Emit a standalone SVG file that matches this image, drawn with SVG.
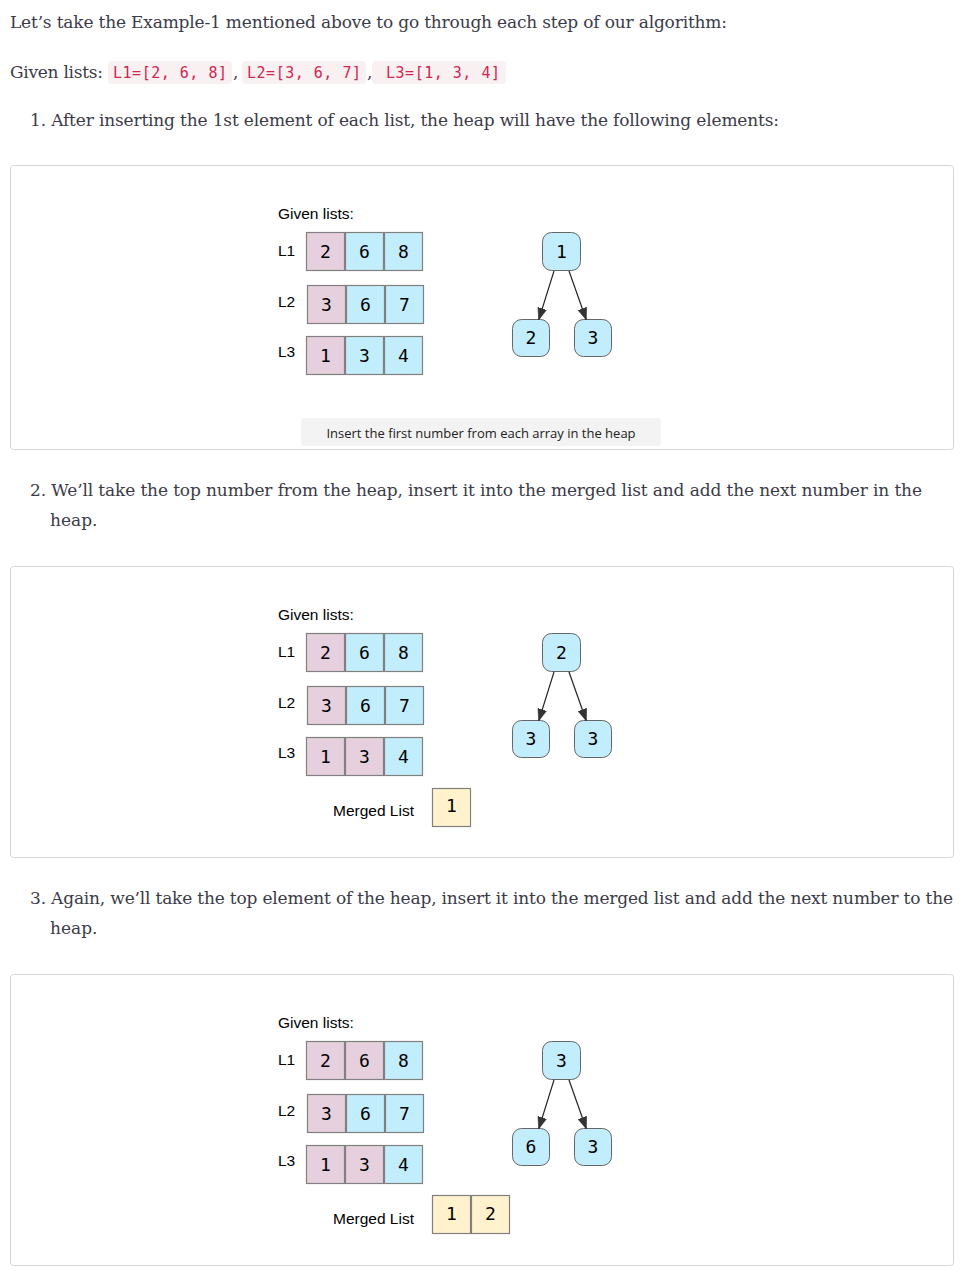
<svg xmlns="http://www.w3.org/2000/svg" width="966" height="1271" viewBox="0 0 966 1271">
<style>
.body{font-family:"DejaVu Serif","Liberation Serif",serif;font-size:17px;fill:#3b3b48}
.code{font-family:"DejaVu Sans Mono","Liberation Mono",monospace;font-size:15px;fill:#d1264f}
.codebg{fill:#f9f0f2}
.frame{fill:#ffffff;stroke:#d4d4d4;stroke-width:1}
.lbl{font-family:"Liberation Sans",Arial,sans-serif;font-size:15.5px;fill:#000}
.num{font-family:"DejaVu Sans Mono","Liberation Mono",monospace;font-size:18px;fill:#000;text-anchor:middle}
.pk{fill:#e6d0de;stroke:#808080;stroke-width:1.2}
.bl{fill:#c2edfc;stroke:#808080;stroke-width:1.2}
.yl{fill:#fff2cc;stroke:#808080;stroke-width:1.2}
.hn{fill:#c2edfc;stroke:#666;stroke-width:1}
.edge{stroke:#222;stroke-width:1.2;fill:none;marker-end:url(#ah)}
.cap{font-family:"Open Sans","Noto Sans",sans-serif;font-size:13px;fill:#222;text-anchor:middle}
</style>
<defs>
<marker id="ah" viewBox="0 0 12 10" refX="11" refY="5" markerWidth="12" markerHeight="10" markerUnits="userSpaceOnUse" orient="auto">
<path d="M0,0.5 L12,5 L0,9.5 z" fill="#333" stroke="#222" stroke-width="0.5"/>
</marker>
</defs>
<rect width="966" height="1271" fill="#ffffff"/>

<g id="text-intro">
<text class="body" x="10" y="28" textLength="717">Let’s take the Example-1 mentioned above to go through each step of our algorithm:</text>
<text class="body" x="10" y="78" textLength="93">Given lists:</text>
<rect class="codebg" x="108" y="61" width="124" height="23" rx="4"/>
<text class="code" x="113" y="78" textLength="114">L1=[2, 6, 8]</text>
<text class="body" x="233" y="78">,</text>
<rect class="codebg" x="242" y="61" width="124" height="23" rx="4"/>
<text class="code" x="247" y="78" textLength="114">L2=[3, 6, 7]</text>
<text class="body" x="367" y="78">,</text>
<rect class="codebg" x="372" y="61" width="134" height="23" rx="4"/>
<text class="code" x="386" y="78" textLength="114">L3=[1, 3, 4]</text>
<text class="body" x="30" y="126" textLength="749">1. After inserting the 1st element of each list, the heap will have the following elements:</text>
<text class="body" x="30" y="496" textLength="892">2. We’ll take the top number from the heap, insert it into the merged list and add the next number in the</text>
<text class="body" x="50" y="526">heap.</text>
<text class="body" x="30" y="904" textLength="923">3. Again, we’ll take the top element of the heap, insert it into the merged list and add the next number to the</text>
<text class="body" x="50" y="934">heap.</text>
</g>

<!-- Diagram 1 -->
<g id="frame1">
<rect class="frame" x="10.5" y="165.5" width="943" height="284" rx="3"/>
<text class="lbl" x="278" y="219">Given lists:</text>
<text class="lbl" x="278" y="256">L1</text>
<text class="lbl" x="278" y="307">L2</text>
<text class="lbl" x="278" y="357">L3</text>
</g>
<g id="d1-L1">
<rect class="pk" x="306.5" y="232.5" width="38" height="38"/>
<rect class="bl" x="345.5" y="232.5" width="38" height="38"/>
<rect class="bl" x="384.5" y="232.5" width="38" height="38"/>
<text class="num" x="325.5" y="258">2</text><text class="num" x="364.5" y="258">6</text><text class="num" x="403.5" y="258">8</text>
</g>
<g id="d1-L2">
<rect class="pk" x="307.5" y="285.5" width="38" height="38"/>
<rect class="bl" x="346.5" y="285.5" width="38" height="38"/>
<rect class="bl" x="385.5" y="285.5" width="38" height="38"/>
<text class="num" x="326.5" y="311">3</text><text class="num" x="365.5" y="311">6</text><text class="num" x="404.5" y="311">7</text>
</g>
<g id="d1-L3">
<rect class="pk" x="306.5" y="336.5" width="38" height="38"/>
<rect class="bl" x="345.5" y="336.5" width="38" height="38"/>
<rect class="bl" x="384.5" y="336.5" width="38" height="38"/>
<text class="num" x="325.5" y="362">1</text><text class="num" x="364.5" y="362">3</text><text class="num" x="403.5" y="362">4</text>
</g>
<g id="d1-h1"><rect class="hn" x="542.5" y="232.5" width="38" height="38" rx="9"/><text class="num" x="561.5" y="258">1</text></g>
<g id="d1-h2"><rect class="hn" x="512.5" y="319.5" width="37" height="37" rx="9"/><text class="num" x="531" y="344">2</text></g>
<g id="d1-h3"><rect class="hn" x="574.5" y="319.5" width="37" height="37" rx="9"/><text class="num" x="593" y="344">3</text></g>
<g id="d1-caption">
<rect x="301" y="418" width="360" height="28" rx="4" fill="#f3f3f3"/>
<text class="cap" x="481" y="438">Insert the first number from each array in the heap</text>
</g>

<!-- Diagram 2 -->
<g id="frame2">
<rect class="frame" x="10.5" y="566.5" width="943" height="291" rx="3"/>
<text class="lbl" x="278" y="620">Given lists:</text>
<text class="lbl" x="278" y="657">L1</text>
<text class="lbl" x="278" y="708">L2</text>
<text class="lbl" x="278" y="758">L3</text>
</g>
<g id="d2-L1">
<rect class="pk" x="306.5" y="633.5" width="38" height="38"/>
<rect class="bl" x="345.5" y="633.5" width="38" height="38"/>
<rect class="bl" x="384.5" y="633.5" width="38" height="38"/>
<text class="num" x="325.5" y="659">2</text><text class="num" x="364.5" y="659">6</text><text class="num" x="403.5" y="659">8</text>
</g>
<g id="d2-L2">
<rect class="pk" x="307.5" y="686.5" width="38" height="38"/>
<rect class="bl" x="346.5" y="686.5" width="38" height="38"/>
<rect class="bl" x="385.5" y="686.5" width="38" height="38"/>
<text class="num" x="326.5" y="712">3</text><text class="num" x="365.5" y="712">6</text><text class="num" x="404.5" y="712">7</text>
</g>
<g id="d2-L3">
<rect class="pk" x="306.5" y="737.5" width="38" height="38"/>
<rect class="pk" x="345.5" y="737.5" width="38" height="38"/>
<rect class="bl" x="384.5" y="737.5" width="38" height="38"/>
<text class="num" x="325.5" y="763">1</text><text class="num" x="364.5" y="763">3</text><text class="num" x="403.5" y="763">4</text>
</g>
<g id="d2-h1"><rect class="hn" x="542.5" y="633.5" width="38" height="38" rx="9"/><text class="num" x="561.5" y="659">2</text></g>
<g id="d2-h2"><rect class="hn" x="512.5" y="720.5" width="37" height="37" rx="9"/><text class="num" x="531" y="745">3</text></g>
<g id="d2-h3"><rect class="hn" x="574.5" y="720.5" width="37" height="37" rx="9"/><text class="num" x="593" y="745">3</text></g>
<g id="d2-merged">
<text class="lbl" x="333" y="816">Merged List</text>
<rect class="yl" x="432.5" y="788.5" width="38" height="38"/>
<text class="num" x="451.5" y="812">1</text>
</g>

<!-- Diagram 3 -->
<g id="frame3">
<rect class="frame" x="10.5" y="974.5" width="943" height="291" rx="3"/>
<text class="lbl" x="278" y="1028">Given lists:</text>
<text class="lbl" x="278" y="1065">L1</text>
<text class="lbl" x="278" y="1116">L2</text>
<text class="lbl" x="278" y="1166">L3</text>
</g>
<g id="d3-L1">
<rect class="pk" x="306.5" y="1041.5" width="38" height="38"/>
<rect class="pk" x="345.5" y="1041.5" width="38" height="38"/>
<rect class="bl" x="384.5" y="1041.5" width="38" height="38"/>
<text class="num" x="325.5" y="1067">2</text><text class="num" x="364.5" y="1067">6</text><text class="num" x="403.5" y="1067">8</text>
</g>
<g id="d3-L2">
<rect class="pk" x="307.5" y="1094.5" width="38" height="38"/>
<rect class="bl" x="346.5" y="1094.5" width="38" height="38"/>
<rect class="bl" x="385.5" y="1094.5" width="38" height="38"/>
<text class="num" x="326.5" y="1120">3</text><text class="num" x="365.5" y="1120">6</text><text class="num" x="404.5" y="1120">7</text>
</g>
<g id="d3-L3">
<rect class="pk" x="306.5" y="1145.5" width="38" height="38"/>
<rect class="pk" x="345.5" y="1145.5" width="38" height="38"/>
<rect class="bl" x="384.5" y="1145.5" width="38" height="38"/>
<text class="num" x="325.5" y="1171">1</text><text class="num" x="364.5" y="1171">3</text><text class="num" x="403.5" y="1171">4</text>
</g>
<g id="d3-h1"><rect class="hn" x="542.5" y="1041.5" width="38" height="38" rx="9"/><text class="num" x="561.5" y="1067">3</text></g>
<g id="d3-h2"><rect class="hn" x="512.5" y="1128.5" width="37" height="37" rx="9"/><text class="num" x="531" y="1153">6</text></g>
<g id="d3-h3"><rect class="hn" x="574.5" y="1128.5" width="37" height="37" rx="9"/><text class="num" x="593" y="1153">3</text></g>
<g id="d3-merged">
<text class="lbl" x="333" y="1224">Merged List</text>
<rect class="yl" x="432.5" y="1195.5" width="38" height="38"/>
<rect class="yl" x="471.5" y="1195.5" width="38" height="38"/>
<text class="num" x="451.5" y="1220">1</text>
<text class="num" x="490.5" y="1220">2</text>
</g>

<g id="connectors">
<line class="edge" x1="554" y1="271" x2="539" y2="319"/>
<line class="edge" x1="569" y1="271" x2="586" y2="319"/>
<line class="edge" x1="554" y1="672" x2="539" y2="720"/>
<line class="edge" x1="569" y1="672" x2="586" y2="720"/>
<line class="edge" x1="554" y1="1080" x2="539" y2="1128"/>
<line class="edge" x1="569" y1="1080" x2="586" y2="1128"/>
</g>
</svg>
